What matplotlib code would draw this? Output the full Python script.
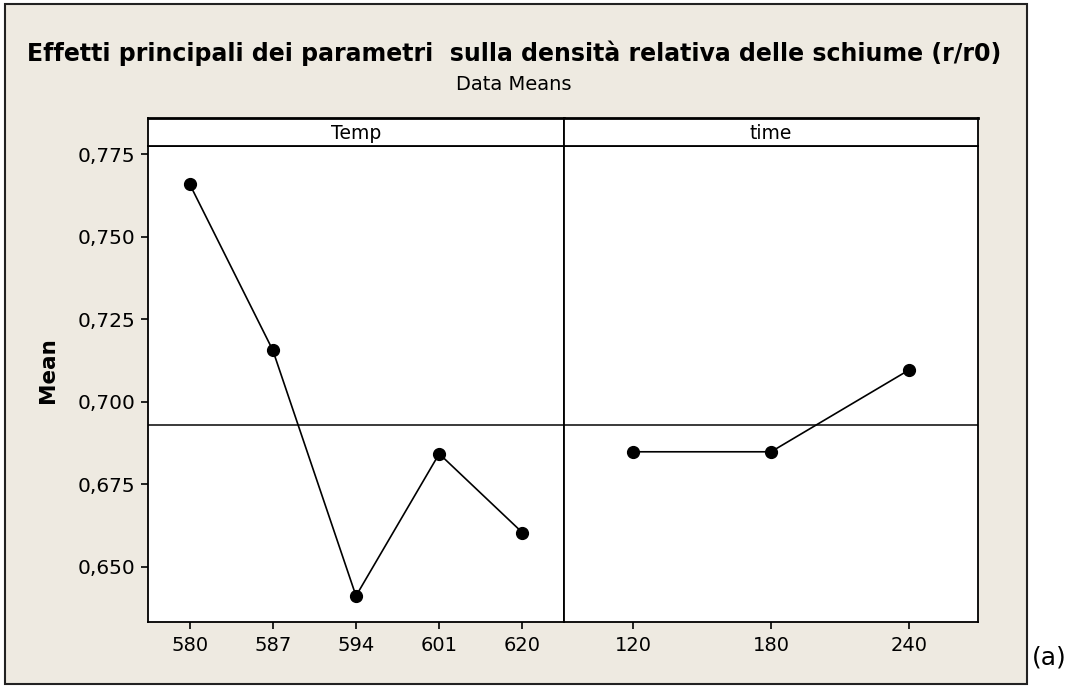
import matplotlib
matplotlib.use("Agg")
import matplotlib.pyplot as plt
from matplotlib.patches import Rectangle
from matplotlib.ticker import FuncFormatter

# Main effects: means of relative foam density per factor level
temp_levels = ["580", "587", "594", "601", "620"]
temp_means = [0.766, 0.7156, 0.6411, 0.6842, 0.6603]
time_levels = ["120", "180", "240"]
time_means = [0.6848, 0.6848, 0.7096]
grand_mean = 0.693

W, H = 1078, 692
fig = plt.figure(figsize=(W / 100, H / 100), dpi=100)
fig.patch.set_facecolor("white")
plt.rcParams["font.family"] = "DejaVu Sans"


def box(x0, y0, x1, y1):
    # pixel box (top-left origin) -> figure fraction rect
    return [x0 / W, 1 - y1 / H, (x1 - x0) / W, (y1 - y0) / H]


# beige chart frame
frame = Rectangle((5 / W, 1 - 684 / H), 1022 / W, 680 / H, transform=fig.transFigure,
                  facecolor="#EEEAE1", edgecolor="#222222", linewidth=1.5, zorder=-10)
fig.patches.append(frame)

fig.text(514 / W, 1 - 53 / H,
         "Effetti principali dei parametri  sulla densità relativa delle schiume (r/r0)",
         ha="center", va="center", fontsize=17, fontweight="bold")
fig.text(514 / W, 1 - 84 / H, "Data Means", ha="center", va="center", fontsize=14)
fig.text(48 / W, 1 - 370 / H, "Mean", ha="center", va="center", rotation=90,
         fontsize=15.5, fontweight="bold")
fig.text(1032 / W, 1 - 658 / H, "(a)", ha="left", va="center", fontsize=18)

ylo, yhi = 0.6332, 0.7775
comma = FuncFormatter(lambda v, p: f"{v:.3f}".replace(".", ","))

ax1 = fig.add_axes(box(148, 146, 564, 622))
ax2 = fig.add_axes(box(564, 146, 978, 622), sharey=ax1)

panels = [(ax1, temp_levels, temp_means), (ax2, time_levels, time_means)]
for ax, levels, means in panels:
    xs = list(range(1, len(levels) + 1))
    ax.plot(xs, means, color="black", linewidth=1.2, marker="o", markersize=8.5, zorder=3)
    ax.axhline(grand_mean, color="#3a3a3a", linewidth=1.4, zorder=2)
    ax.set_xlim(0.5, len(levels) + 0.5)
    ax.set_xticks(xs)
    ax.set_xticklabels(levels)
    ax.set_facecolor("white")
    for s in ax.spines.values():
        s.set_linewidth(1.3)
        s.set_color("black")
    ax.tick_params(axis="x", length=5, width=1.2, pad=5, labelsize=14)

ax1.set_ylim(ylo, yhi)
ax1.set_yticks([0.650, 0.675, 0.700, 0.725, 0.750, 0.775])
ax1.yaxis.set_major_formatter(comma)
ax1.tick_params(axis="y", length=5, width=1.2, pad=4, labelsize=14.5)
ax2.tick_params(axis="y", left=False, labelleft=False)

# factor name strips above each panel
for x0, x1, name in [(148, 564, "Temp"), (564, 978, "time")]:
    hax = fig.add_axes(box(x0, 118, x1, 146))
    hax.set_xticks([])
    hax.set_yticks([])
    hax.set_facecolor("white")
    for s in hax.spines.values():
        s.set_linewidth(1.3)
        s.set_color("black")
    hax.spines["top"].set_linewidth(2)
    hax.text(0.5, 0.45, name, transform=hax.transAxes, ha="center", va="center", fontsize=13.5)

fig.savefig("out.png", dpi=100)
